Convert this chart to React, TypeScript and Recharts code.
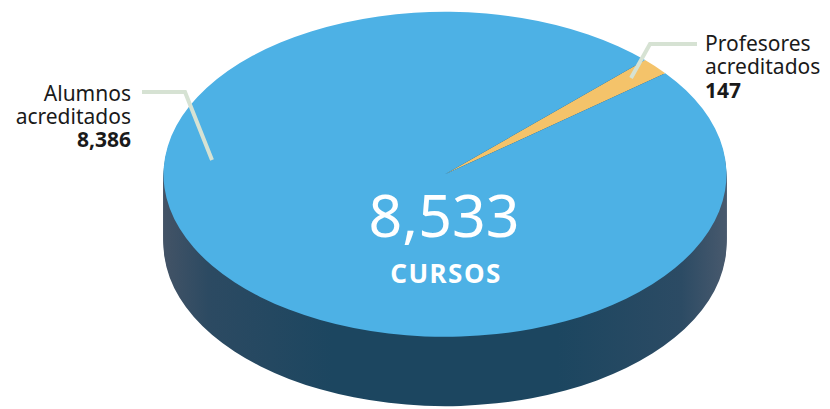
import { PieChart, Pie, Cell } from 'recharts';

// valores del gráfico
const categorias = ['Profesores acreditados', 'Alumnos acreditados'];
const valores = [147, 8386];
const colores = ['#f4c36a', '#4db1e5'];
const total = 8533;
const totalLabel = 'CURSOS';

const data = categorias.map((name, i) => ({ name, value: valores[i] }));

// pie aplastado con CSS para simular perspectiva
const SCALE_Y = 0.5773;
const CX = 445;
const CY = 302;
const R = 281.5;
const DEPTH = 120;
const STEP = 4;

const layers: number[] = [];
for (let d = DEPTH; d > 0; d -= STEP) layers.push(d);

const fmt = (n: number) => n.toLocaleString('en-US');

export default function App() {
  return (
    <div style={{ position: 'absolute', left: 0, top: 0, width: 830, height: 409, overflow: 'hidden' }}>
      <div style={{ transform: `scaleY(${SCALE_Y})`, transformOrigin: '0 0', position: 'absolute', left: 0, top: 0 }}>
        <PieChart width={830} height={712} margin={{ top: 0, right: 0, bottom: 0, left: 0 }}>
          <defs>
            <linearGradient id="lado" x1={CX - R} x2={CX + R} y1={0} y2={0} gradientUnits="userSpaceOnUse">
              <stop offset="0%" stopColor="#435366" />
              <stop offset="8%" stopColor="#2c4a62" />
              <stop offset="30%" stopColor="#1c4660" />
              <stop offset="70%" stopColor="#1c4660" />
              <stop offset="92%" stopColor="#2c4b64" />
              <stop offset="100%" stopColor="#48596d" />
            </linearGradient>
          </defs>
          {layers.map((d) => (
            <Pie
              key={d}
              data={data}
              dataKey="value"
              cx={CX}
              cy={CY + d}
              outerRadius={R}
              startAngle={38.5}
              endAngle={398.5}
              stroke="none"
              fill="url(#lado)"
              isAnimationActive={false}
            />
          ))}
          <Pie
            data={data}
            dataKey="value"
            cx={CX}
            cy={CY}
            outerRadius={R}
            startAngle={38.5}
            endAngle={398.5}
            stroke="none"
            isAnimationActive={false}
          >
            {data.map((_, i) => (
              <Cell key={i} fill={colores[i]} />
            ))}
          </Pie>
        </PieChart>
      </div>
      <svg width={830} height={409} style={{ position: 'absolute', left: 0, top: 0 }} fontFamily="'Noto Sans', sans-serif">
        <polyline points="142,92 185,92 212,160" fill="none" stroke="#d6e2d3" strokeWidth={4} />
        <polyline points="697,44 650,44 631,78" fill="none" stroke="#d6e2d3" strokeWidth={4} />
        <text x={131} y={101} fontSize={21} fill="#1a1a1a" textAnchor="end">
          <tspan x={131}>Alumnos</tspan>
          <tspan x={131} dy={23}>acreditados</tspan>
          <tspan x={131} dy={23} fontWeight="bold">{fmt(valores[1])}</tspan>
        </text>
        <text x={705} y={51} fontSize={21} fill="#1a1a1a" textAnchor="start">
          <tspan x={705}>Profesores</tspan>
          <tspan x={705} dy={23}>acreditados</tspan>
          <tspan x={705} dy={24} fontWeight="bold">{fmt(valores[0])}</tspan>
        </text>
        <text x={444} y={237} fontSize={59} fill="#ffffff" textAnchor="middle">{fmt(total)}</text>
        <text x={446} y={283} fontSize={26} fontWeight="bold" letterSpacing={1.5} fill="#ffffff" textAnchor="middle">{totalLabel}</text>
      </svg>
    </div>
  );
}
